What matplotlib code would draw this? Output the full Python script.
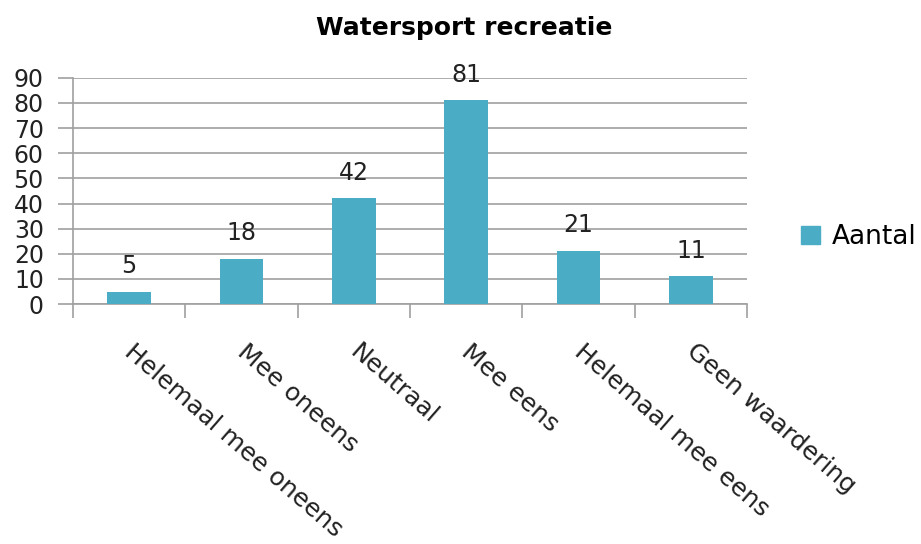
import matplotlib.pyplot as plt
from matplotlib.patches import Patch

# data
categorieen = ["Helemaal mee oneens", "Mee oneens", "Neutraal", "Mee eens",
               "Helemaal mee eens", "Geen waardering"]
aantal = [5, 18, 42, 81, 21, 11]
yticks = list(range(0, 91, 10))

kleur = "#4bacc6"
plt.rcParams['font.family'] = ['DejaVu Sans']

fig = plt.figure(figsize=(9.21, 5.44), dpi=100)
ax = fig.add_axes([0.0793, 0.441, 0.7318, 0.416])

x = list(range(len(categorieen)))
ax.bar(x, aantal, width=0.39, color=kleur, zorder=3)

for xi, v in zip(x, aantal):
    ax.text(xi, v + 7.5, str(v), ha='center', va='baseline', fontsize=17, color='#222222')

ax.set_xlim(-0.5, len(categorieen) - 0.5)
ax.set_ylim(0, 90)
ax.set_yticks(yticks)
ax.set_yticklabels([str(t) for t in yticks], fontsize=17, color='#222222')
ax.yaxis.grid(True, color='#a0a0a0', linewidth=1.2, zorder=0)
ax.tick_params(axis='y', length=11, color='#a0a0a0', width=1.2, pad=10)

# ticks op de grenzen tussen categorieen
ax.set_xticks([i - 0.5 for i in range(len(categorieen) + 1)])
ax.set_xticklabels([])
ax.tick_params(axis='x', length=10, color='#a0a0a0', width=1.2, direction='out')
for xi, lab in zip(x, categorieen):
    ax.text(xi + 0.06, -14, lab, rotation=-41, rotation_mode='anchor',
            ha='left', va='top', fontsize=18, color='#222222')

for s in ['top', 'right']:
    ax.spines[s].set_visible(False)
for s in ['left', 'bottom']:
    ax.spines[s].set_color('#a0a0a0')
    ax.spines[s].set_linewidth(1.2)

fig.text(0.504, 0.9485, "Watersport recreatie", ha='center', va='center',
         fontsize=18, fontweight='bold')

fig.legend(handles=[Patch(color=kleur, label='Aantal')], loc='center left',
           bbox_to_anchor=(0.87, 0.564), frameon=False, fontsize=19,
           handlelength=0.7, handleheight=0.7, handletextpad=0.45,
           borderaxespad=0, borderpad=0)

fig.savefig("out.png")
